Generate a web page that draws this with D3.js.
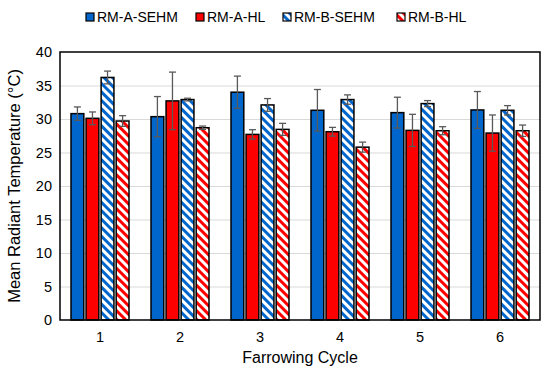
<!DOCTYPE html>
<html>
<head>
<meta charset="utf-8">
<script src="https://cdn.jsdelivr.net/npm/d3@7"></script>
<style>
  body { margin: 0; background: #fff; }
  text { font-family: "Liberation Sans", Arial, sans-serif; fill: #000; }
</style>
</head>
<body>
<div id="chart"></div>
<script>
// categories / series
let cycles = ["1", "2", "3", "4", "5", "6"];
let seriesNames = ["RM-A-SEHM", "RM-A-HL", "RM-B-SEHM", "RM-B-HL"];
let seriesColors = ["#0066cc", "#ff0000", "#0066cc", "#ff0000"];
let seriesHatched = [false, false, true, true];

// mean values per series (one per cycle)
let rmASehm = [30.8, 30.35, 34.0, 31.3, 30.95, 31.35];
let rmAHl = [30.1, 32.7, 27.7, 28.1, 28.3, 27.9];
let rmBSehm = [36.2, 32.9, 32.1, 32.9, 32.3, 31.3];
let rmBHl = [29.7, 28.7, 28.45, 25.8, 28.25, 28.25];

// error (+/-) per series
let errASehm = [1.0, 3.0, 2.4, 3.1, 2.3, 2.75];
let errAHl = [0.95, 4.3, 0.7, 0.65, 2.4, 2.7];
let errBSehm = [0.95, 0.2, 0.95, 0.7, 0.45, 0.7];
let errBHl = [0.8, 0.25, 0.9, 0.75, 0.6, 0.85];

let yTicks = [0, 5, 10, 15, 20, 25, 30, 35, 40];

let values = [rmASehm, rmAHl, rmBSehm, rmBHl];
let errors = [errASehm, errAHl, errBSehm, errBHl];

let width = 550, height = 378;
let margin = {left: 60, right: 10, top: 52, bottom: 58};

let svg = d3.select("#chart").append("svg")
    .attr("width", width)
    .attr("height", height);

// 斜线填充图案
let defs = svg.append("defs");
seriesColors.forEach(function (c, i) {
    let p = defs.append("pattern")
        .attr("id", "hatch" + i)
        .attr("patternUnits", "userSpaceOnUse")
        .attr("width", 6)
        .attr("height", 6)
        .attr("patternTransform", "rotate(45)");
    p.append("rect").attr("width", 6).attr("height", 6).attr("fill", "#fff");
    p.append("rect").attr("width", 6).attr("height", 3).attr("fill", c);
});

let fillOf = function (i) {
    return seriesHatched[i] ? "url(#hatch" + i + ")" : seriesColors[i];
};

let x0 = d3.scaleBand()
    .domain(cycles)
    .range([margin.left, width - margin.right]);

let x1 = d3.scaleBand()
    .domain(d3.range(seriesNames.length))
    .range([0, 58])
    .paddingInner(0.15);

let y = d3.scaleLinear()
    .domain([0, 40])
    .range([height - margin.bottom, margin.top]);

// 网格线
svg.append("g")
    .selectAll("line")
    .data(yTicks.filter(d => d > 0 && d < 40))
    .enter()
    .append("line")
    .attr("x1", margin.left)
    .attr("x2", width - margin.right)
    .attr("y1", d => y(d) + 0.5)
    .attr("y2", d => y(d) + 0.5)
    .attr("stroke", "#d9d9d9")
    .attr("stroke-width", 1);

// y 轴刻度
svg.append("g")
    .selectAll("text")
    .data(yTicks)
    .enter()
    .append("text")
    .attr("x", margin.left - 8)
    .attr("y", d => y(d))
    .attr("dy", "0.35em")
    .attr("text-anchor", "end")
    .attr("font-size", 14.5)
    .text(d => d);

// 柱子
let groups = svg.append("g")
    .selectAll("g")
    .data(cycles)
    .enter()
    .append("g")
    .attr("transform", d => "translate(" + (x0(d) + (x0.bandwidth() - 58) / 2) + ",0)");

groups.selectAll("rect")
    .data((d, ci) => values.map((s, si) => ({si: si, v: s[ci], e: errors[si][ci]})))
    .enter()
    .append("rect")
    .attr("x", d => x1(d.si))
    .attr("y", d => y(d.v))
    .attr("width", x1.bandwidth())
    .attr("height", d => y(0) - y(d.v))
    .attr("fill", d => fillOf(d.si))
    .attr("stroke", "#000")
    .attr("stroke-width", 1.5);

// 误差线
let errG = groups.selectAll(".err")
    .data((d, ci) => values.map((s, si) => ({si: si, v: s[ci], e: errors[si][ci]})))
    .enter()
    .append("g")
    .attr("class", "err")
    .attr("stroke", "#595959")
    .attr("stroke-width", 1.3);

errG.append("line")
    .attr("x1", d => x1(d.si) + x1.bandwidth() / 2)
    .attr("x2", d => x1(d.si) + x1.bandwidth() / 2)
    .attr("y1", d => y(d.v + d.e))
    .attr("y2", d => y(d.v - d.e));
[1, -1].forEach(function (sgn) {
    errG.append("line")
        .attr("x1", d => x1(d.si) + x1.bandwidth() / 2 - 3.5)
        .attr("x2", d => x1(d.si) + x1.bandwidth() / 2 + 3.5)
        .attr("y1", d => y(d.v + sgn * d.e))
        .attr("y2", d => y(d.v + sgn * d.e));
});

// 外框
svg.append("rect")
    .attr("x", margin.left)
    .attr("y", margin.top)
    .attr("width", width - margin.left - margin.right)
    .attr("height", height - margin.top - margin.bottom)
    .attr("fill", "none")
    .attr("stroke", "#000")
    .attr("stroke-width", 1.5);

// x 轴标签
svg.append("g")
    .selectAll("text")
    .data(cycles)
    .enter()
    .append("text")
    .attr("x", d => x0(d) + x0.bandwidth() / 2)
    .attr("y", height - margin.bottom + 22)
    .attr("text-anchor", "middle")
    .attr("font-size", 14.5)
    .text(d => d);

svg.append("text")
    .attr("x", (margin.left + width - margin.right) / 2)
    .attr("y", 363)
    .attr("text-anchor", "middle")
    .attr("font-size", 16)
    .text("Farrowing Cycle");

svg.append("text")
    .attr("transform", "translate(20," + (margin.top + (height - margin.top - margin.bottom) / 2) + ") rotate(-90)")
    .attr("text-anchor", "middle")
    .attr("font-size", 16.5)
    .text("Mean Radiant Temperature (°C)");

// 图例
let legendX = [86, 196, 283, 397];
let legend = svg.append("g")
    .selectAll("g")
    .data(seriesNames)
    .enter()
    .append("g")
    .attr("transform", (d, i) => "translate(" + legendX[i] + ",13)");

legend.append("rect")
    .attr("width", 8)
    .attr("height", 8)
    .attr("fill", (d, i) => fillOf(i))
    .attr("stroke", "#000")
    .attr("stroke-width", 1.2);

legend.append("text")
    .attr("x", 11)
    .attr("y", 4)
    .attr("dy", "0.35em")
    .attr("font-size", 14)
    .text(d => d);
</script>
</body>
</html>
